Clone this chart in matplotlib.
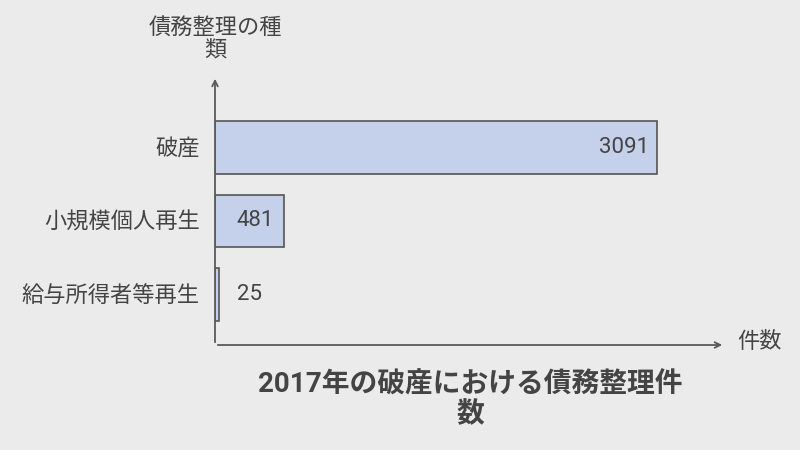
import matplotlib
matplotlib.use("Agg")
import matplotlib.pyplot as plt

plt.rcParams['font.family'] = ['Roboto', 'Noto Sans CJK JP', 'DejaVu Sans']

categories = ['破産', '小規模個人再生', '給与所得者等再生']
counts = [3091, 481, 25]
title = '2017年の破産における債務整理件\n数'
x_label = '件数'
y_label = '債務整理の種\n類'

bg = '#ebebeb'
bar_color = '#c5d0ea'
edge = '#555555'
txt = '#444444'

fig = plt.figure(figsize=(8, 4.5), dpi=100, facecolor=bg)
# axes placed in pixel terms: origin at (215, 345), arrows end at x=725, y=76
ax = fig.add_axes([215 / 800, 105 / 450, 510 / 800, 269 / 450])
ax.set_facecolor(bg)

ypos = list(range(len(categories)))[::-1]  # 破産 on top
ax.barh(ypos, counts, height=0.72, color=bar_color, edgecolor=edge, linewidth=1.2)

xmax = 3091 * 510 / 442
ax.set_xlim(0, xmax)
ax.set_ylim(-50.5 / 73.5, 218.5 / 73.5)

for y, v in zip(ypos, counts):
    if v > 1000:
        ax.text(v - 0.015 * xmax, y, str(v), ha='right', va='center', fontsize=16, color=txt)
    else:
        ax.text(0.043 * xmax, y, str(v), ha='left', va='center', fontsize=16, color=txt)

ax.set_yticks(ypos)
ax.set_yticklabels(categories, fontsize=16, color=txt)
ax.tick_params(axis='y', length=0, pad=11)
ax.set_xticks([])
for s in ax.spines.values():
    s.set_visible(False)

# arrowed axes
ax.annotate('', xy=(1, 0), xytext=(0, 0), xycoords='axes fraction',
            arrowprops=dict(arrowstyle='->', color='#5a5a5a', lw=1.3))
ax.annotate('', xy=(0, 1), xytext=(0, 0), xycoords='axes fraction',
            arrowprops=dict(arrowstyle='->', color='#5a5a5a', lw=1.3))

fig.text(737 / 800, 1 - 342 / 450, x_label, ha='left', va='center', fontsize=16, color=txt)
fig.text(215 / 800, 1 - 40 / 450, y_label, ha='center', va='center', fontsize=16,
         color=txt, linespacing=1.15)
fig.text(470 / 800, 1 - 400 / 450, title, ha='center', va='center', fontsize=20,
         fontweight='bold', color=txt, linespacing=1.1)

fig.savefig('out.png', dpi=100, facecolor=bg)
